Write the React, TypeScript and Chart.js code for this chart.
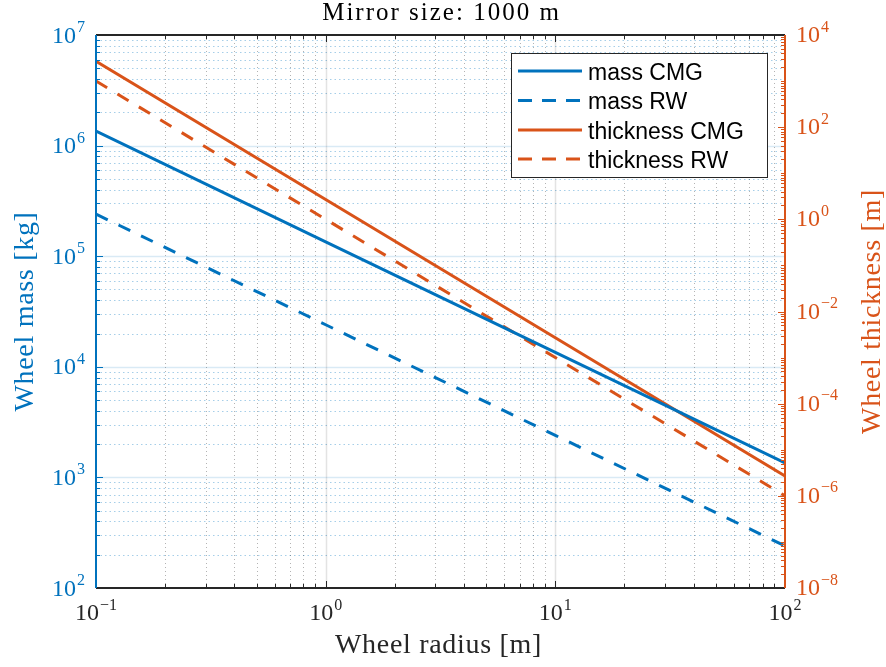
import React, { useEffect, useRef } from "react";
import { Chart, registerables } from "chart.js";

Chart.register(...registerables);

// ---- data ----
const radius = [0.1, 1, 10, 100];
const massCMG = [1.35e6, 1.35e5, 1.35e4, 1.35e3];
const massRW = [2.4e5, 2.4e4, 2.4e3, 2.4e2];
const thicknessCMG = [2.7e3, 2.7, 2.7e-3, 2.7e-6];
const thicknessRW = [1e3, 1, 1e-3, 1e-6];

const seriesLabels = ["mass CMG", "mass RW", "thickness CMG", "thickness RW"];
const xTickExps = [-1, 0, 1, 2];
const leftTickExps = [2, 3, 4, 5, 6, 7];
const rightTickExps = [-8, -6, -4, -2, 0, 2, 4];
const titleText = "Mirror size: 1000 m";
const xLabel = "Wheel radius [m]";
const leftLabel = "Wheel mass [kg]";
const rightLabel = "Wheel thickness [m]";

const BLUE = "#0072BD";
const ORANGE = "#D95319";
const DARK = "#262626";
const SERIF = "'Liberation Serif', 'Times New Roman', serif";
const SANS = "'Liberation Sans', Arial, sans-serif";

function decadeValues(lo: number, hi: number) {
  const out: { v: number; major: boolean; e: number }[] = [];
  for (let e = lo; e < hi; e++) {
    for (let k = 1; k <= 9; k++) out.push({ v: k * Math.pow(10, e), major: k === 1, e });
  }
  out.push({ v: Math.pow(10, hi), major: true, e: hi });
  return out;
}

function expStr(e: number) {
  return e < 0 ? "\u2212" + String(-e) : String(e);
}

function drawPow(ctx: CanvasRenderingContext2D, e: number, x: number, baseline: number, align: "left" | "right" | "center", color: string) {
  ctx.save();
  ctx.fillStyle = color;
  ctx.textAlign = "left";
  ctx.textBaseline = "alphabetic";
  ctx.font = `24px ${SERIF}`;
  const w10 = ctx.measureText("10").width;
  ctx.font = `16px ${SERIF}`;
  const s = expStr(e);
  const ws = ctx.measureText(s).width;
  const total = w10 + 1 + ws;
  let x0 = x;
  if (align === "right") x0 = x - total;
  else if (align === "center") x0 = x - total / 2;
  ctx.font = `24px ${SERIF}`;
  ctx.fillText("10", x0, baseline);
  ctx.font = `16px ${SERIF}`;
  ctx.fillText(s, x0 + w10 + 1, baseline - 10.5);
  ctx.restore();
}

const matlabPlugin = {
  id: "matlabAxes",
  beforeDatasetsDraw(chart: any) {
    const ctx: CanvasRenderingContext2D = chart.ctx;
    const ca = chart.chartArea;
    const xs = chart.scales.x;
    const ys = chart.scales.y;
    ctx.save();
    ctx.lineWidth = 1;
    // left-axis horizontal grid
    for (const t of decadeValues(2, 7)) {
      const py = Math.round(ys.getPixelForValue(t.v)) + 0.5;
      if (py <= ca.top + 1 || py >= ca.bottom - 1) continue;
      ctx.beginPath();
      if (t.major) {
        ctx.setLineDash([]);
        ctx.strokeStyle = "rgba(0,114,189,0.15)";
        ctx.lineWidth = 1.5;
      } else {
        ctx.setLineDash([1.5, 3]);
        ctx.strokeStyle = "rgba(0,114,189,0.35)";
        ctx.lineWidth = 1;
      }
      ctx.moveTo(ca.left, py);
      ctx.lineTo(ca.right, py);
      ctx.stroke();
    }
    // vertical grid
    for (const t of decadeValues(-1, 2)) {
      const px = Math.round(xs.getPixelForValue(t.v)) + 0.5;
      if (px <= ca.left + 1 || px >= ca.right - 1) continue;
      ctx.beginPath();
      if (t.major) {
        ctx.setLineDash([]);
        ctx.strokeStyle = "rgba(38,38,38,0.13)";
        ctx.lineWidth = 1.5;
      } else {
        ctx.setLineDash([1, 3]);
        ctx.strokeStyle = "rgba(38,38,38,0.35)";
        ctx.lineWidth = 1;
      }
      ctx.moveTo(px, ca.top);
      ctx.lineTo(px, ca.bottom);
      ctx.stroke();
    }
    ctx.restore();
  },
  afterDatasetsDraw(chart: any) {
    const ctx: CanvasRenderingContext2D = chart.ctx;
    const ca = chart.chartArea;
    const xs = chart.scales.x;
    const ys = chart.scales.y;
    const y2 = chart.scales.y2;
    ctx.save();
    ctx.setLineDash([]);

    // ticks
    ctx.lineWidth = 1;
    ctx.strokeStyle = DARK;
    for (const t of decadeValues(-1, 2)) {
      const px = Math.round(xs.getPixelForValue(t.v)) + 0.5;
      const len = t.major ? 7 : 4;
      ctx.beginPath();
      ctx.moveTo(px, ca.bottom);
      ctx.lineTo(px, ca.bottom - len);
      ctx.moveTo(px, ca.top);
      ctx.lineTo(px, ca.top + len);
      ctx.stroke();
    }
    ctx.strokeStyle = BLUE;
    for (const t of decadeValues(2, 7)) {
      const py = Math.round(ys.getPixelForValue(t.v)) + 0.5;
      const len = t.major ? 7 : 4;
      ctx.beginPath();
      ctx.moveTo(ca.left, py);
      ctx.lineTo(ca.left + len, py);
      ctx.stroke();
    }
    ctx.strokeStyle = ORANGE;
    for (const t of decadeValues(-8, 4)) {
      const py = Math.round(y2.getPixelForValue(t.v)) + 0.5;
      const len = t.major && t.e % 2 === 0 ? 7 : 4;
      ctx.beginPath();
      ctx.moveTo(ca.right, py);
      ctx.lineTo(ca.right - len, py);
      ctx.stroke();
    }

    // axis lines
    ctx.lineWidth = 2;
    ctx.strokeStyle = DARK;
    ctx.beginPath();
    ctx.moveTo(ca.left, ca.bottom);
    ctx.lineTo(ca.right, ca.bottom);
    ctx.moveTo(ca.left, ca.top);
    ctx.lineTo(ca.right, ca.top);
    ctx.stroke();
    ctx.strokeStyle = BLUE;
    ctx.beginPath();
    ctx.moveTo(ca.left, ca.top);
    ctx.lineTo(ca.left, ca.bottom);
    ctx.stroke();
    ctx.strokeStyle = ORANGE;
    ctx.beginPath();
    ctx.moveTo(ca.right, ca.top);
    ctx.lineTo(ca.right, ca.bottom);
    ctx.stroke();

    // tick labels
    for (const e of xTickExps) {
      drawPow(ctx, e, xs.getPixelForValue(Math.pow(10, e)), 620, "center", DARK);
    }
    for (const e of leftTickExps) {
      drawPow(ctx, e, 85, ys.getPixelForValue(Math.pow(10, e)) + 7.5, "right", BLUE);
    }
    for (const e of rightTickExps) {
      drawPow(ctx, e, 796, y2.getPixelForValue(Math.pow(10, e)) + 7, "left", ORANGE);
    }

    // title & axis labels
    const cx = (ca.left + ca.right) / 2;
    const cy = (ca.top + ca.bottom) / 2;
    ctx.textBaseline = "alphabetic";
    ctx.textAlign = "center";
    ctx.fillStyle = "#000";
    ctx.font = `25px ${SERIF}`;
    (ctx as any).letterSpacing = "2px";
    ctx.fillText(titleText, cx + 1, 19.5);
    (ctx as any).letterSpacing = "0.7px";
    ctx.fillStyle = DARK;
    ctx.font = `28px ${SERIF}`;
    ctx.fillText(xLabel, cx - 2, 653);

    ctx.save();
    ctx.translate(33, cy);
    ctx.rotate(-Math.PI / 2);
    ctx.fillStyle = BLUE;
    ctx.fillText(leftLabel, 0, 0);
    ctx.restore();

    ctx.save();
    ctx.translate(880, cy);
    ctx.rotate(-Math.PI / 2);
    ctx.fillStyle = ORANGE;
    ctx.fillText(rightLabel, 0, 0);
    ctx.restore();
    (ctx as any).letterSpacing = "0px";

    // legend
    const lx = 511, ly = 53, lw = 256, lh = 124;
    ctx.fillStyle = "#fff";
    ctx.fillRect(lx, ly, lw, lh);
    ctx.lineWidth = 1;
    ctx.strokeStyle = DARK;
    ctx.strokeRect(lx + 0.5, ly + 0.5, lw, lh);
    const rows = [71, 100.5, 130, 159];
    chart.data.datasets.forEach((ds: any, i: number) => {
      const ry = rows[i];
      ctx.beginPath();
      ctx.lineWidth = 3;
      ctx.strokeStyle = ds.borderColor;
      ctx.setLineDash(ds.borderDash && ds.borderDash.length ? [14, 10] : []);
      ctx.moveTo(518, ry);
      ctx.lineTo(582, ry);
      ctx.stroke();
      ctx.setLineDash([]);
      ctx.fillStyle = "#000";
      ctx.font = `23px ${SANS}`;
      ctx.textAlign = "left";
      ctx.fillText(ds.label, 588, ry + 8.5);
    });

    ctx.restore();
  },
};

export default function App() {
  const ref = useRef<HTMLCanvasElement>(null);
  useEffect(() => {
    const canvas = ref.current;
    if (!canvas) return;
    const mk = (ys: number[]) => radius.map((x, i) => ({ x, y: ys[i] }));
    const chart = new Chart(canvas, {
      type: "line",
      data: {
        datasets: [
          { label: seriesLabels[0], data: mk(massCMG), yAxisID: "y", borderColor: BLUE, borderWidth: 3, pointRadius: 0, fill: false, tension: 0 },
          { label: seriesLabels[1], data: mk(massRW), yAxisID: "y", borderColor: BLUE, borderWidth: 3, borderDash: [13, 12], pointRadius: 0, fill: false, tension: 0 },
          { label: seriesLabels[2], data: mk(thicknessCMG), yAxisID: "y2", borderColor: ORANGE, borderWidth: 3, pointRadius: 0, fill: false, tension: 0 },
          { label: seriesLabels[3], data: mk(thicknessRW), yAxisID: "y2", borderColor: ORANGE, borderWidth: 3, borderDash: [13, 12], pointRadius: 0, fill: false, tension: 0 },
        ],
      },
      options: {
        responsive: false,
        animation: false,
        devicePixelRatio: 1,
        layout: { padding: { top: 35, left: 0, right: 0, bottom: 0 } },
        plugins: { legend: { display: false }, title: { display: false }, tooltip: { enabled: false } },
        scales: {
          x: {
            type: "logarithmic",
            min: 0.1,
            max: 100,
            grid: { display: false },
            ticks: { display: false },
            border: { display: false },
            afterFit: (s: any) => { s.height = 79; },
          },
          y: {
            type: "logarithmic",
            position: "left",
            min: 100,
            max: 1e7,
            grid: { display: false },
            ticks: { display: false },
            border: { display: false },
            afterFit: (s: any) => { s.width = 96; },
          },
          y2: {
            type: "logarithmic",
            position: "right",
            min: 1e-8,
            max: 1e4,
            grid: { display: false },
            ticks: { display: false },
            border: { display: false },
            afterFit: (s: any) => { s.width = 101; },
          },
        },
      } as any,
      plugins: [matlabPlugin as any],
    });
    return () => chart.destroy();
  }, []);
  return (
    <div style={{ position: "absolute", left: 0, top: 0, width: 886, height: 667, background: "#fff" }}>
      <canvas ref={ref} width={886} height={667} style={{ display: "block", width: 886, height: 667 }} />
    </div>
  );
}
